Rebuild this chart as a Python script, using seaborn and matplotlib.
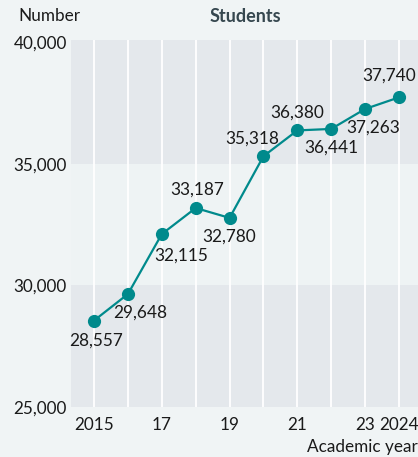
import matplotlib
matplotlib.use("Agg")
import matplotlib.pyplot as plt
import seaborn as sns
import pandas as pd

years = [2015, 2016, 2017, 2018, 2019, 2020, 2021, 2022, 2023, 2024]
students = [28557, 29648, 32115, 33187, 32780, 35318, 36380, 36441, 37263, 37740]
tick_years = [2015, 2017, 2019, 2021, 2023, 2024]
tick_labels = ["2015", "17", "19", "21", "23", "2024"]
# label offsets in pixels (dx, dy) around each point
label_offsets = [(2, -20), (12, -19), (19, -22), (1, 18), (0, -19),
                 (-11, 18), (0, 18), (0, -19), (8, -19), (-10, 22)]

sns.set_theme(style="white")
plt.rcParams["font.family"] = ["Lato", "DejaVu Sans"]

BG = "#f0f4f5"
BAND_DARK = "#e4e8ec"
BAND_LIGHT = "#eef3f4"
TEAL = "#008a8c"
TEXT = "#1a1a1a"
FS = 12.3

df = pd.DataFrame({"year": years, "students": students})

fig = plt.figure(figsize=(4.18, 4.57), dpi=100, facecolor=BG)
ax = fig.add_axes([71 / 418, 50 / 457, (420 - 71) / 418, (407 - 40) / 457])
ax.set_facecolor(BG)

ax.set_xlim(2014.32, 2024.62)
ax.set_ylim(25000, 40100)

ax.axhspan(25000, 30000, color=BAND_DARK, zorder=0, lw=0)
ax.axhspan(30000, 35000, color=BAND_LIGHT, zorder=0, lw=0)
ax.axhspan(35000, 40100, color=BAND_DARK, zorder=0, lw=0)
for y in years:
    ax.axvline(y, color="white", lw=1.3, zorder=1)

sns.lineplot(data=df, x="year", y="students", ax=ax, color=TEAL, lw=1.6,
             marker="o", markersize=9.5, markeredgewidth=0, zorder=3)

for x, v, (dx, dy) in zip(years, students, label_offsets):
    ax.annotate(f"{v:,}", (x, v), xytext=(dx, dy), textcoords="offset pixels",
                ha="center", va="center", fontsize=12.4, color=TEXT, zorder=4)

for s in ax.spines.values():
    s.set_visible(False)
ax.set_xticks(tick_years)
ax.set_xticklabels(tick_labels)
ax.set_yticks([25000, 30000, 35000, 40000])
ax.set_yticklabels(["25,000", "30,000", "35,000", "40,000"])
ax.tick_params(axis="both", length=0, labelsize=FS, labelcolor=TEXT)
ax.tick_params(axis="x", pad=7)
ax.tick_params(axis="y", pad=3)
ax.set_xlabel("")
ax.set_ylabel("")

fig.text(18 / 418, 1 - 16 / 457, "Number", ha="left", va="center",
         fontsize=FS, color=TEXT)
fig.text(245 / 418, 1 - 16 / 457, "Students", ha="center", va="center",
         fontsize=13, fontweight="bold", color="#36474f")
fig.text(307 / 418, 1 - 447 / 457, "Academic year", ha="left", va="center",
         fontsize=FS, color=TEXT)

fig.savefig("out.png", dpi=100, facecolor=BG)
